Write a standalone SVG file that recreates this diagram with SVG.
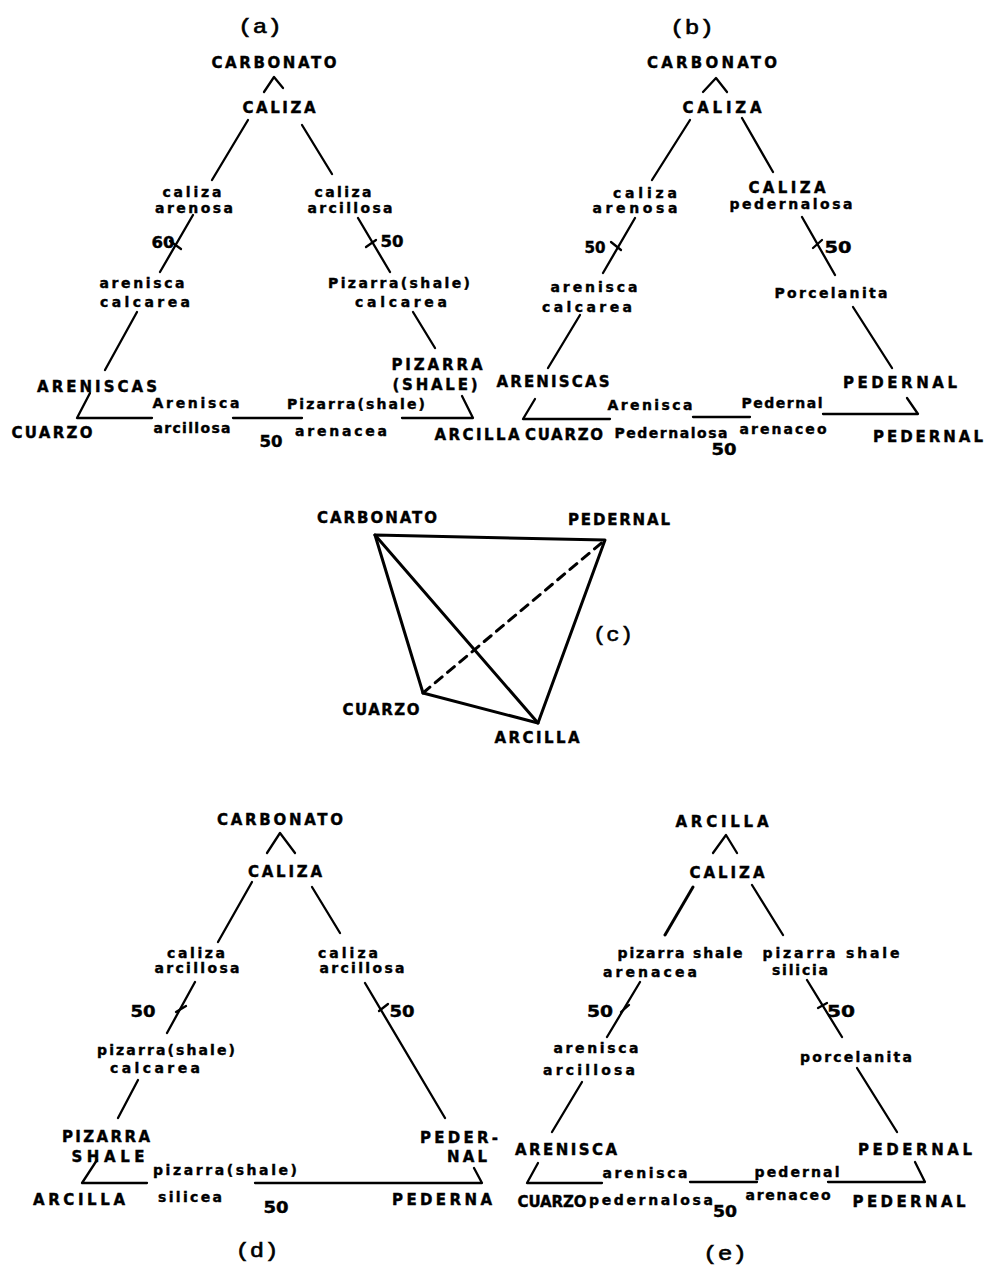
<svg xmlns="http://www.w3.org/2000/svg" width="991" height="1269" viewBox="0 0 991 1269">
<style>
text{font-family:"DejaVu Sans","Liberation Sans",sans-serif;font-weight:bold;fill:#000;stroke:#000;stroke-width:0.4;text-anchor:middle}
.cap{font-size:15px}
.low{font-size:14px}
.fig{font-family:"Liberation Mono",monospace;font-weight:normal;font-size:21px;stroke-width:0.6}
.ln{stroke:#000;stroke-width:2.3;fill:none;stroke-linecap:round;stroke-linejoin:round}
.thk{stroke-width:3}
.dash{stroke-dasharray:9 7}
</style>
<rect width="991" height="1269" fill="#fff"/>
<g id="connectors">
<!-- (a) -->
<path class="ln" d="M264,92 L274,77 L283,88"/>
<path class="ln" d="M248,120 L212,180"/>
<path class="ln" d="M302,125 L332,174"/>
<path class="ln" d="M193,215 L160,272"/>
<path class="ln" d="M170,241 L181,249"/>
<path class="ln" d="M358,218 L390,272"/>
<path class="ln" d="M366,247 L376,240"/>
<path class="ln" d="M137,312 L105,370"/>
<path class="ln" d="M413,312 L435,348"/>
<path class="ln" d="M90,393 L77,418 L152,418"/>
<path class="ln" d="M233,418 L302,418"/>
<path class="ln" d="M402,418 L473,418 L462,396"/>
<!-- (b) -->
<path class="ln" d="M703,92 L716,78 L727,92"/>
<path class="ln" d="M690,120 L652,180"/>
<path class="ln" d="M742,118 L773,172"/>
<path class="ln" d="M635,218 L603,273"/>
<path class="ln" d="M611,242 L621,250"/>
<path class="ln" d="M802,217 L835,275"/>
<path class="ln" d="M813,248 L822,240"/>
<path class="ln" d="M580,315 L548,368"/>
<path class="ln" d="M853,307 L892,368"/>
<path class="ln" d="M535,399 L523,419 L610,419"/>
<path class="ln" d="M693,417 L750,417"/>
<path class="ln" d="M823,414 L918,414 L907,398"/>
<!-- (c) -->
<path class="ln thk" d="M375,535 L605,540 L538,723 L423,693 Z"/>
<path class="ln thk" d="M375,535 L538,723"/>
<path class="ln thk dash" d="M423,693 L605,540"/>
<!-- (d) -->
<path class="ln" d="M267,853 L280,833 L295,853"/>
<path class="ln" d="M252,882 L218,942"/>
<path class="ln" d="M312,887 L340,933"/>
<path class="ln" d="M195,982 L167,1033"/>
<path class="ln" d="M176,1012 L186,1006"/>
<path class="ln" d="M365,983 L445,1118"/>
<path class="ln" d="M379,1011 L388,1004"/>
<path class="ln" d="M138,1080 L118,1118"/>
<path class="ln" d="M97,1160 L82,1183 L147,1183"/>
<path class="ln" d="M255,1183 L482,1183 L474,1168"/>
<!-- (e) -->
<path class="ln" d="M713,853 L726,835 L737,853"/>
<path class="ln thk" d="M693,887 L665,935"/>
<path class="ln" d="M752,885 L783,935"/>
<path class="ln" d="M640,982 L607,1037"/>
<path class="ln" d="M621,1012 L629,1005"/>
<path class="ln" d="M807,980 L842,1037"/>
<path class="ln" d="M818,1008 L827,1003"/>
<path class="ln" d="M582,1082 L552,1132"/>
<path class="ln" d="M857,1068 L897,1132"/>
<path class="ln" d="M538,1163 L527,1183 L602,1183"/>
<path class="ln" d="M690,1182 L757,1182"/>
<path class="ln" d="M828,1182 L925,1182 L915,1162"/>
</g>

<g id="panel-a">
<g id="a-title"><text class="fig" x="260" y="33" textLength="44" lengthAdjust="spacingAndGlyphs">(a)</text></g>
<g id="a-carbonato"><text class="cap" x="274" y="68" textLength="125" lengthAdjust="spacing">CARBONATO</text></g>
<g id="a-caliza"><text class="cap" x="279" y="113" textLength="73" lengthAdjust="spacing">CALIZA</text></g>
<g id="a-caliza-arenosa"><text class="low" x="192" y="197" textLength="59" lengthAdjust="spacing">caliza</text><text class="low" x="194" y="213" textLength="78" lengthAdjust="spacing">arenosa</text></g>
<g id="a-caliza-arcillosa"><text class="low" x="343" y="197" textLength="57" lengthAdjust="spacing">caliza</text><text class="low" x="350" y="213" textLength="85" lengthAdjust="spacing">arcillosa</text></g>
<g id="a-60"><text class="cap" x="163" y="248" textLength="23" lengthAdjust="spacingAndGlyphs">60</text></g>
<g id="a-50r"><text class="cap" x="392" y="247" textLength="23" lengthAdjust="spacingAndGlyphs">50</text></g>
<g id="a-arenisca-calcarea"><text class="low" x="142" y="288" textLength="85" lengthAdjust="spacing">arenisca</text><text class="low" x="145" y="307" textLength="90" lengthAdjust="spacing">calcarea</text></g>
<g id="a-pizarra-calcarea"><text class="low" x="399" y="288" textLength="142" lengthAdjust="spacing">Pizarra(shale)</text><text class="low" x="401" y="307" textLength="92" lengthAdjust="spacing">calcarea</text></g>
<g id="a-areniscas"><text class="cap" x="97" y="392" textLength="120" lengthAdjust="spacing">ARENISCAS</text></g>
<g id="a-pizarra-shale"><text class="cap" x="437" y="370" textLength="91" lengthAdjust="spacing">PIZARRA</text><text class="cap" x="435" y="390" textLength="85" lengthAdjust="spacing">(SHALE)</text></g>
<g id="a-arenisca-arcillosa"><text class="low" x="196" y="408" textLength="87" lengthAdjust="spacing">Arenisca</text><text class="low" x="192" y="433" textLength="77" lengthAdjust="spacing">arcillosa</text></g>
<g id="a-pizarra-arenacea"><text class="low" x="356" y="409" textLength="138" lengthAdjust="spacing">Pizarra(shale)</text><text class="low" x="341" y="436" textLength="92" lengthAdjust="spacing">arenacea</text></g>
<g id="a-cuarzo"><text class="cap" x="52" y="438" textLength="81" lengthAdjust="spacing">CUARZO</text></g>
<g id="a-50b"><text class="cap" x="271" y="447" textLength="23" lengthAdjust="spacingAndGlyphs">50</text></g>
<g id="a-arcilla"><text class="cap" x="477" y="440" textLength="85" lengthAdjust="spacing">ARCILLA</text></g>
</g>

<g id="panel-b">
<g id="b-title"><text class="fig" x="692" y="34" textLength="44" lengthAdjust="spacingAndGlyphs">(b)</text></g>
<g id="b-carbonato"><text class="cap" x="712" y="68" textLength="130" lengthAdjust="spacing">CARBONATO</text></g>
<g id="b-caliza"><text class="cap" x="722" y="113" textLength="79" lengthAdjust="spacing">CALIZA</text></g>
<g id="b-caliza-arenosa"><text class="low" x="645" y="198" textLength="64" lengthAdjust="spacing">caliza</text><text class="low" x="635" y="213" textLength="85" lengthAdjust="spacing">arenosa</text></g>
<g id="b-caliza-pedernalosa"><text class="cap" x="787" y="193" textLength="77" lengthAdjust="spacing">CALIZA</text><text class="low" x="791" y="209" textLength="123" lengthAdjust="spacing">pedernalosa</text></g>
<g id="b-50l"><text class="cap" x="595" y="253" textLength="21" lengthAdjust="spacingAndGlyphs">50</text></g>
<g id="b-50r"><text class="cap" x="838" y="253" textLength="27" lengthAdjust="spacingAndGlyphs">50</text></g>
<g id="b-arenisca-calcarea"><text class="low" x="594" y="292" textLength="87" lengthAdjust="spacing">arenisca</text><text class="low" x="587" y="312" textLength="90" lengthAdjust="spacing">calcarea</text></g>
<g id="b-porcelanita"><text class="low" x="831" y="298" textLength="113" lengthAdjust="spacing">Porcelanita</text></g>
<g id="b-areniscas"><text class="cap" x="553" y="387" textLength="113" lengthAdjust="spacing">ARENISCAS</text></g>
<g id="b-pedernal-r"><text class="cap" x="900" y="388" textLength="114" lengthAdjust="spacing">PEDERNAL</text></g>
<g id="b-arenisca-pedernalosa"><text class="low" x="650" y="410" textLength="85" lengthAdjust="spacing">Arenisca</text><text class="low" x="671" y="438" textLength="113" lengthAdjust="spacing">Pedernalosa</text></g>
<g id="b-pedernal-arenaceo"><text class="low" x="782" y="408" textLength="81" lengthAdjust="spacing">Pedernal</text><text class="low" x="783" y="434" textLength="87" lengthAdjust="spacing">arenaceo</text></g>
<g id="b-cuarzo"><text class="cap" x="564" y="440" textLength="78" lengthAdjust="spacing">CUARZO</text></g>
<g id="b-50b"><text class="cap" x="724" y="455" textLength="25" lengthAdjust="spacingAndGlyphs">50</text></g>
<g id="b-pedernal-b"><text class="cap" x="928" y="442" textLength="110" lengthAdjust="spacing">PEDERNAL</text></g>
</g>

<g id="panel-c">
<g id="c-carbonato"><text class="cap" x="377" y="523" textLength="120" lengthAdjust="spacing">CARBONATO</text></g>
<g id="c-pedernal"><text class="cap" x="619" y="525" textLength="102" lengthAdjust="spacing">PEDERNAL</text></g>
<g id="c-title"><text class="fig" x="613" y="641" textLength="40" lengthAdjust="spacingAndGlyphs">(c)</text></g>
<g id="c-cuarzo"><text class="cap" x="381" y="715" textLength="77" lengthAdjust="spacing">CUARZO</text></g>
<g id="c-arcilla"><text class="cap" x="537" y="743" textLength="85" lengthAdjust="spacing">ARCILLA</text></g>
</g>

<g id="panel-d">
<g id="d-carbonato"><text class="cap" x="280" y="825" textLength="126" lengthAdjust="spacing">CARBONATO</text></g>
<g id="d-caliza"><text class="cap" x="285" y="877" textLength="74" lengthAdjust="spacing">CALIZA</text></g>
<g id="d-caliza-arcillosa-l"><text class="low" x="196" y="958" textLength="58" lengthAdjust="spacing">caliza</text><text class="low" x="197" y="973" textLength="85" lengthAdjust="spacing">arcillosa</text></g>
<g id="d-caliza-arcillosa-r"><text class="low" x="348" y="958" textLength="60" lengthAdjust="spacing">caliza</text><text class="low" x="362" y="973" textLength="85" lengthAdjust="spacing">arcillosa</text></g>
<g id="d-50l"><text class="cap" x="143" y="1017" textLength="25" lengthAdjust="spacingAndGlyphs">50</text></g>
<g id="d-50r"><text class="cap" x="402" y="1017" textLength="25" lengthAdjust="spacingAndGlyphs">50</text></g>
<g id="d-pizarra-calcarea"><text class="low" x="166" y="1055" textLength="138" lengthAdjust="spacing">pizarra(shale)</text><text class="low" x="155" y="1073" textLength="90" lengthAdjust="spacing">calcarea</text></g>
<g id="d-pizarra-shale"><text class="cap" x="106" y="1142" textLength="88" lengthAdjust="spacing">PIZARRA</text><text class="cap" x="108" y="1162" textLength="73" lengthAdjust="spacing">SHALE</text></g>
<g id="d-pedernal-r"><text class="cap" x="459" y="1143" textLength="78" lengthAdjust="spacing">PEDER-</text><text class="cap" x="467" y="1162" textLength="40" lengthAdjust="spacing">NAL</text></g>
<g id="d-pizarra-silicea"><text class="low" x="225" y="1175" textLength="144" lengthAdjust="spacing">pizarra(shale)</text><text class="low" x="190" y="1202" textLength="64" lengthAdjust="spacing">silicea</text></g>
<g id="d-arcilla"><text class="cap" x="79" y="1205" textLength="92" lengthAdjust="spacing">ARCILLA</text></g>
<g id="d-50b"><text class="cap" x="276" y="1213" textLength="25" lengthAdjust="spacingAndGlyphs">50</text></g>
<g id="d-pederna"><text class="cap" x="442" y="1205" textLength="100" lengthAdjust="spacing">PEDERNA</text></g>
<g id="d-title"><text class="fig" x="257" y="1257" textLength="43" lengthAdjust="spacingAndGlyphs">(d)</text></g>
</g>

<g id="panel-e">
<g id="e-arcilla"><text class="cap" x="722" y="827" textLength="93" lengthAdjust="spacing">ARCILLA</text></g>
<g id="e-caliza"><text class="cap" x="727" y="878" textLength="75" lengthAdjust="spacing">CALIZA</text></g>
<g id="e-pizarra-arenacea"><text class="low" x="680" y="958" textLength="125" lengthAdjust="spacing">pizarra shale</text><text class="low" x="650" y="977" textLength="94" lengthAdjust="spacing">arenacea</text></g>
<g id="e-pizarra-silicia"><text class="low" x="831" y="958" textLength="137" lengthAdjust="spacing">pizarra shale</text><text class="low" x="800" y="975" textLength="56" lengthAdjust="spacing">silicia</text></g>
<g id="e-50l"><text class="cap" x="600" y="1017" textLength="26" lengthAdjust="spacingAndGlyphs">50</text></g>
<g id="e-50r"><text class="cap" x="841" y="1017" textLength="28" lengthAdjust="spacingAndGlyphs">50</text></g>
<g id="e-arenisca-arcillosa"><text class="low" x="596" y="1053" textLength="85" lengthAdjust="spacing">arenisca</text><text class="low" x="589" y="1075" textLength="92" lengthAdjust="spacing">arcillosa</text></g>
<g id="e-porcelanita"><text class="low" x="856" y="1062" textLength="112" lengthAdjust="spacing">porcelanita</text></g>
<g id="e-arenisca"><text class="cap" x="566" y="1155" textLength="102" lengthAdjust="spacing">ARENISCA</text></g>
<g id="e-pedernal-r"><text class="cap" x="915" y="1155" textLength="114" lengthAdjust="spacing">PEDERNAL</text></g>
<g id="e-arenisca-pedernalosa"><text class="low" x="645" y="1178" textLength="85" lengthAdjust="spacing">arenisca</text><text class="low" x="651" y="1205" textLength="124" lengthAdjust="spacing">pedernalosa</text></g>
<g id="e-pedernal-arenaceo"><text class="low" x="797" y="1177" textLength="85" lengthAdjust="spacing">pedernal</text><text class="low" x="788" y="1200" textLength="85" lengthAdjust="spacing">arenaceo</text></g>
<g id="e-cuarzo"><text class="cap" x="552" y="1207" textLength="69" lengthAdjust="spacing">CUARZO</text></g>
<g id="e-50b"><text class="cap" x="725" y="1217" textLength="24" lengthAdjust="spacingAndGlyphs">50</text></g>
<g id="e-pedernal-b"><text class="cap" x="909" y="1207" textLength="113" lengthAdjust="spacing">PEDERNAL</text></g>
<g id="e-title"><text class="fig" x="725" y="1260" textLength="44" lengthAdjust="spacingAndGlyphs">(e)</text></g>
</g>
</svg>
